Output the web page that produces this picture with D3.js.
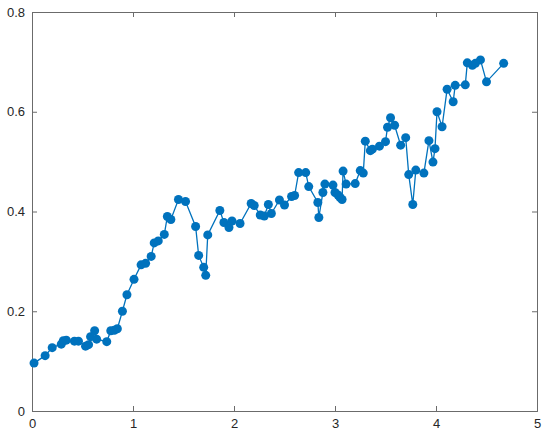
<!DOCTYPE html>
<html>
<head>
<meta charset="utf-8">
<script src="https://cdn.jsdelivr.net/npm/d3@7"></script>
<style>
  body { margin: 0; background: #fff; }
  .axis text { font-family: "Liberation Sans", Arial, sans-serif; font-size: 13px; fill: #262626; }
  .axis path, .axis line { stroke: #6b6b6b; }
</style>
</head>
<body>
<div id="chart"></div>
<script>
var xVals = [0.02,0.13,0.20,0.29,0.31,0.34,0.42,0.46,0.53,0.56,0.58,0.62,0.64,0.74,0.78,0.815,0.845,0.895,0.94,1.01,
             1.08,1.125,1.18,1.21,1.25,1.31,1.34,1.375,1.45,1.52,1.62,1.65,1.70,1.72,1.74,1.86,1.90,1.95,1.98,2.06,
             2.17,2.20,2.26,2.30,2.34,2.37,2.45,2.50,2.57,2.60,2.64,2.71,2.74,2.83,2.84,2.88,2.90,2.98,3.00,3.03,
             3.05,3.07,3.08,3.11,3.20,3.25,3.28,3.30,3.35,3.37,3.44,3.50,3.52,3.55,3.59,3.65,3.70,3.73,3.77,3.80,
             3.88,3.93,3.97,3.99,4.01,4.06,4.11,4.17,4.19,4.29,4.31,4.36,4.39,4.44,4.50,4.67];
var yVals = [0.096,0.111,0.127,0.134,0.141,0.142,0.140,0.140,0.130,0.133,0.149,0.161,0.144,0.139,0.161,0.162,0.165,0.200,0.233,0.264,
             0.293,0.296,0.310,0.337,0.341,0.354,0.390,0.384,0.424,0.420,0.370,0.312,0.288,0.272,0.353,0.402,0.378,0.368,0.381,0.376,
             0.416,0.412,0.393,0.391,0.414,0.396,0.423,0.413,0.430,0.432,0.478,0.478,0.450,0.418,0.388,0.438,0.455,0.453,0.438,0.433,
             0.428,0.424,0.481,0.455,0.456,0.482,0.477,0.541,0.522,0.525,0.531,0.540,0.569,0.588,0.573,0.533,0.548,0.474,0.414,0.483,
             0.477,0.542,0.499,0.526,0.600,0.570,0.645,0.620,0.653,0.654,0.698,0.693,0.697,0.704,0.660,0.697];
var xTicks = [0, 1, 2, 3, 4, 5];
var yTicks = [0, 0.2, 0.4, 0.6, 0.8];

var margin = {left: 32, right: 13, top: 12, bottom: 26},
    width = 550 - margin.left - margin.right,
    height = 437 - margin.top - margin.bottom;

var points = xVals.map(function(d, i) { return {x: d, y: yVals[i]}; });

var svg = d3.select('#chart')
    .append('svg')
    .attr('width', 550)
    .attr('height', 437)
    .append('g')
    .attr('transform', `translate(${margin.left},${margin.top})`);

var xScale = d3.scaleLinear().domain([0, 5]).range([0, width]);
var yScale = d3.scaleLinear().domain([0, 0.8]).range([height, 0]);

// box (top and right)
svg.append('g').attr('class', 'axis')
    .call(d3.axisTop(xScale).tickValues(xTicks).tickSize(-5).tickFormat(''));
svg.append('g').attr('class', 'axis')
    .attr('transform', `translate(${width},0)`)
    .call(d3.axisRight(yScale).tickValues(yTicks).tickSize(-5).tickFormat(''));

svg.append('g').attr('class', 'axis')
    .attr('transform', `translate(0,${height})`)
    .call(d3.axisBottom(xScale).tickValues(xTicks).tickSize(-5).tickPadding(8).tickFormat(d3.format('')));
svg.append('g').attr('class', 'axis')
    .call(d3.axisLeft(yScale).tickValues(yTicks).tickSize(-5).tickPadding(7).tickFormat(d3.format('')));

svg.selectAll('.domain').attr('stroke-width', 1);

var line = d3.line()
    .x(function(d) { return xScale(d.x); })
    .y(function(d) { return yScale(d.y); });

svg.append('path')
    .datum(points)
    .attr('d', line)
    .attr('fill', 'none')
    .attr('stroke', '#0072BD')
    .attr('stroke-width', 1.3);

svg.selectAll('.circ')
    .data(points).enter()
    .append('circle')
    .attr('class', 'circ')
    .attr('cx', function(d) { return xScale(d.x); })
    .attr('cy', function(d) { return yScale(d.y); })
    .attr('r', 4.5)
    .attr('fill', '#0072BD');
</script>
</body>
</html>
